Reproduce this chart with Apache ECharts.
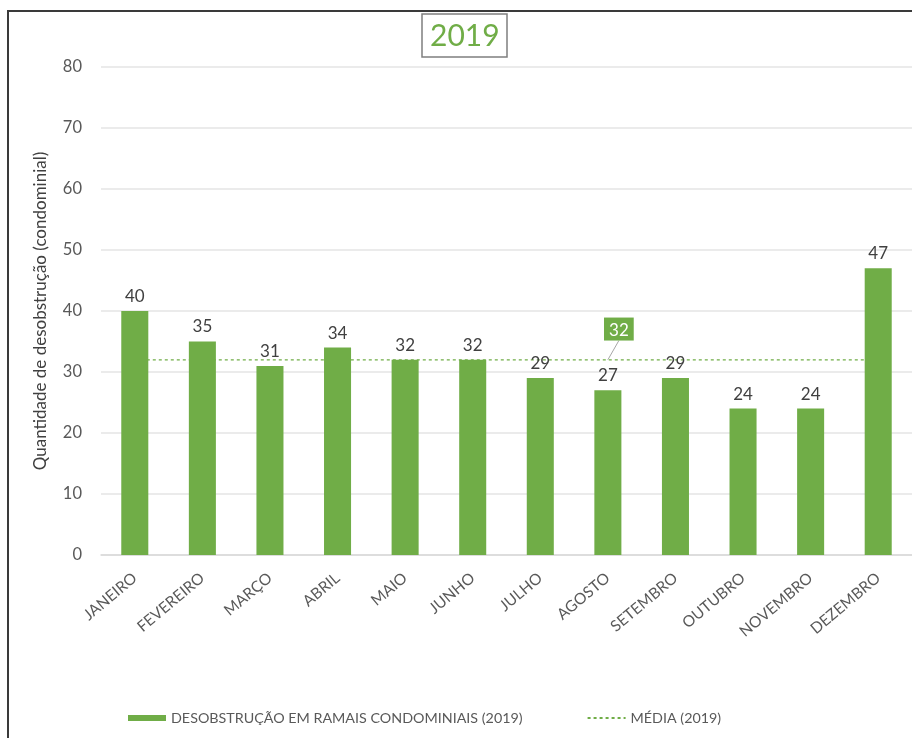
<!DOCTYPE html>
<html>
<head>
<meta charset="utf-8">
<script src="https://cdn.jsdelivr.net/npm/echarts@6/dist/echarts.min.js"></script>
<style>
  html, body { margin: 0; padding: 0; background: #fff; }
  #chart { width: 912px; height: 738px; }
  #frame { position: absolute; left: 7px; top: 10px; width: 920px; height: 740px;
           border-left: 2px solid #3a3a3a; border-top: 2px solid #3a3a3a; pointer-events: none; }
</style>
</head>
<body>
<div id="chart"></div>
<div id="frame"></div>
<script>
// Monthly unblocking counts, condominium branches, 2019
const months = ['JANEIRO', 'FEVEREIRO', 'MARÇO', 'ABRIL', 'MAIO', 'JUNHO',
                'JULHO', 'AGOSTO', 'SETEMBRO', 'OUTUBRO', 'NOVEMBRO', 'DEZEMBRO'];
const desobstrucao = [40, 35, 31, 34, 32, 32, 29, 27, 29, 24, 24, 47];
const media = [32, 32, 32, 32, 32, 32, 32, 32, 32, 32, 32, 32];
const mediaLabelIndex = 7;

const seriesBarName = 'DESOBSTRUÇÃO EM RAMAIS CONDOMINIAIS (2019)';
const seriesAvgName = 'MÉDIA (2019)';

const green = '#70AD47';
const font = 'Lato, "Open Sans", sans-serif';

// Only one point of the average line carries its value label
const mediaData = media.map((v, i) => (i === mediaLabelIndex
  ? { value: v, label: { show: true } }
  : v));

const chart = echarts.init(document.getElementById('chart'));
chart.setOption({
  animation: false,
  textStyle: { fontFamily: font },
  title: {
    text: '2019',
    left: 422,
    top: 14,
    padding: [7, 8, 6, 8],
    borderWidth: 1.5,
    borderColor: '#7f7f7f',
    textStyle: { color: green, fontSize: 30, fontWeight: 'normal', fontFamily: font }
  },
  legend: {
    bottom: 8,
    left: 123,
    itemWidth: 38,
    itemHeight: 6,
    itemGap: 64,
    textStyle: { color: '#595959', fontSize: 14.3, fontFamily: font },
    data: [
      { name: seriesBarName, icon: 'rect' },
      { name: seriesAvgName, itemStyle: { opacity: 0 } }
    ]
  },
  grid: { left: 101, right: 0, top: 67, bottom: 183 },
  xAxis: {
    type: 'category',
    data: months,
    axisLine: { lineStyle: { color: '#d9d9d9', width: 1.5 } },
    axisTick: { show: false },
    axisLabel: { rotate: 40, color: '#595959', fontSize: 15.5, margin: 21, interval: 0 }
  },
  yAxis: {
    type: 'value',
    min: 0,
    max: 80,
    interval: 10,
    name: 'Quantidade de desobstrução (condominial)',
    nameLocation: 'middle',
    nameGap: 52,
    nameTextStyle: { color: '#404040', fontSize: 17 },
    axisLine: { show: false },
    axisTick: { show: false },
    axisLabel: { color: '#595959', fontSize: 16.5, margin: 19 },
    splitLine: { lineStyle: { color: '#e4e4e4', width: 1.5 } }
  },
  series: [
    {
      name: seriesAvgName,
      type: 'line',
      data: mediaData,
      z: 1,
      symbol: 'circle',
      symbolSize: 0.5,
      showSymbol: true,
      itemStyle: { color: green },
      lineStyle: { color: green, width: 1.2, type: [3, 3] },
      label: {
        show: false,
        position: 'top',
        color: '#fff',
        fontSize: 17,
        backgroundColor: green,
        padding: [4, 5, 2, 5]
      },
      labelLine: { show: true, lineStyle: { color: '#a6a6a6', width: 1 } },
      labelLayout: { dx: 11, dy: -14 }
    },
    {
      name: seriesBarName,
      type: 'bar',
      data: desobstrucao,
      z: 2,
      barWidth: '40%',
      itemStyle: { color: green },
      label: { show: true, position: 'top', distance: 6, color: '#404040', fontSize: 17 }
    }
  ]
});
</script>
</body>
</html>
